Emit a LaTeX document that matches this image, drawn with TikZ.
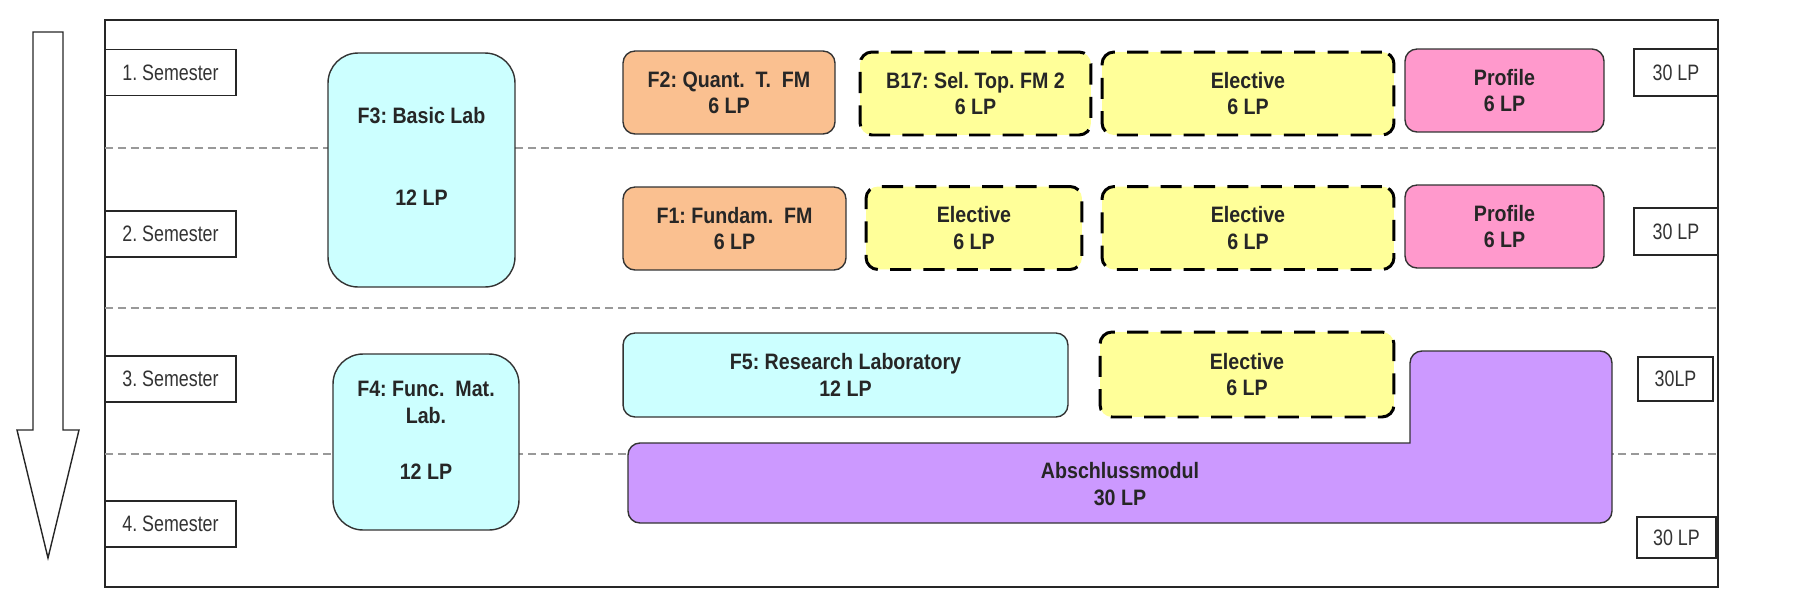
\documentclass[tikz,border=0pt]{standalone}
\usepackage{fontspec}
\setmainfont{Liberation Sans}[FakeStretch=0.88]
\newfontfamily\semfont{Liberation Sans}[FakeStretch=0.8]
\frenchspacing

\definecolor{peach}{HTML}{FAC090}
\definecolor{paleyellow}{HTML}{FFFF99}
\definecolor{rosepink}{HTML}{FF99CC}
\definecolor{palecyan}{HTML}{CCFFFF}
\definecolor{lilac}{HTML}{CC99FF}

\begin{document}
\begin{tikzpicture}[x=0.02cm, y=-0.02cm,
  frame/.style={draw=black!85, line width=1.1pt},
  rowline/.style={draw=black!40, line width=0.8pt, dash pattern=on 4.5pt off 2.8pt},
  sembox/.style={draw=black!85, line width=0.8pt, fill=white, inner sep=0pt,
    minimum width=2.62cm, minimum height=0.92cm, text=black!80,
    font=\fontsize{12.7}{15}\semfont},
  lpbox/.style={sembox},
  module/.style={draw=black!80, line width=0.8pt, rounded corners=0.24cm,
    inner sep=0pt, align=center, minimum height=1.66cm, text=black!85,
    font=\fontsize{12.7}{15}\selectfont\bfseries},
  modtext/.style={align=center, text=black!85,
    font=\fontsize{12.7}{15}\selectfont\bfseries},
  core/.style={module, fill=peach},
  elective/.style={module, fill=paleyellow, draw=black, line width=1.7pt,
    dash pattern=on 12pt off 7pt},
  profile/.style={module, fill=rosepink},
  lab/.style={module, fill=palecyan},
  thesis/.style={draw=black!80, line width=0.8pt, fill=lilac, rounded corners=0.24cm}]
  \useasboundingbox (0,0) rectangle (1799,599);

  % Time arrow
  \draw[line width=0.8pt, draw=black!85] (33,32) -- (63,32) -- (63,430) -- (79,430)
    -- (48,558) -- (17,430) -- (33,430) -- cycle;

  % Frame and semester rows
  \draw[frame] (105,20) rectangle (1718,587);
  \foreach \y in {148,308,454}
    \draw[rowline] (105,\y) -- (1718,\y);

  % Semester labels
  \foreach \n/\y in {1/72.5,2/234,3/379,4/524}
    \node[sembox] (sem\n) at (170.5,\y) {\n. Semester};

  % Credit totals
  \node[lpbox, minimum width=1.68cm, minimum height=0.94cm] (lpA) at (1676,72.5) {30 LP};
  \node[lpbox, minimum width=1.68cm, minimum height=0.94cm] (lpB) at (1676,231.5) {30 LP};
  \node[lpbox, minimum width=1.5cm, minimum height=0.88cm] (lpC) at (1675.5,379) {30LP};
  \node[lpbox, minimum width=1.58cm, minimum height=0.82cm] (lpD) at (1676.5,537.5) {30 LP};

  % Lab modules spanning two semesters
  \node[lab, rounded corners=0.6cm, minimum width=3.74cm, minimum height=4.68cm] (f3) at (421.5,170) {};
  \node[modtext] (f3txt) at (421.5,156.5) {F3: Basic Lab\\[1.1cm]12 LP};
  \node[lab, rounded corners=0.6cm, minimum width=3.72cm, minimum height=3.52cm] (f4) at (426,442) {};
  \node[modtext] (f4txt) at (426,430.5) {F4: Func.~~Mat.\\Lab.\\[0.6cm]12 LP};

  % 1. Semester
  \node[core, minimum width=4.24cm] (f2) at (729,92.5) {F2: Quant.~~T.~~FM\\6 LP};
  \node[elective, minimum width=4.62cm] (b17) at (975.5,93.5) {B17: Sel. Top. FM 2\\6 LP};
  \node[elective, minimum width=5.84cm] (elecA) at (1248,93.5) {Elective\\6 LP};
  \node[profile, minimum width=3.98cm] (profA) at (1504.5,90.5) {Profile\\6 LP};

  % 2. Semester
  \node[core, minimum width=4.46cm] (f1) at (734.5,228.5) {F1: Fundam.~~FM\\6 LP};
  \node[elective, minimum width=4.32cm] (elecB) at (974,228) {Elective\\6 LP};
  \node[elective, minimum width=5.84cm] (elecC) at (1248,228) {Elective\\6 LP};
  \node[profile, minimum width=3.98cm] (profB) at (1504.5,226.5) {Profile\\6 LP};

  % 3. Semester
  \node[lab, minimum width=8.9cm, minimum height=1.68cm] (f5) at (845.5,375) {F5: Research Laboratory\\12 LP};
  \node[elective, minimum width=5.88cm, minimum height=1.7cm] (elecD) at (1247,374.5) {Elective\\6 LP};

  % Thesis module (L-shaped)
  \draw[thesis, line cap=rect] (1410,443) -- (628,443) -- (628,523) -- (1612,523)
    -- (1612,351) -- (1410,351) -- (1410,443);
  \node[modtext] (thesis) at (1120,484) {Abschlussmodul\\30 LP};
\end{tikzpicture}
\end{document}
